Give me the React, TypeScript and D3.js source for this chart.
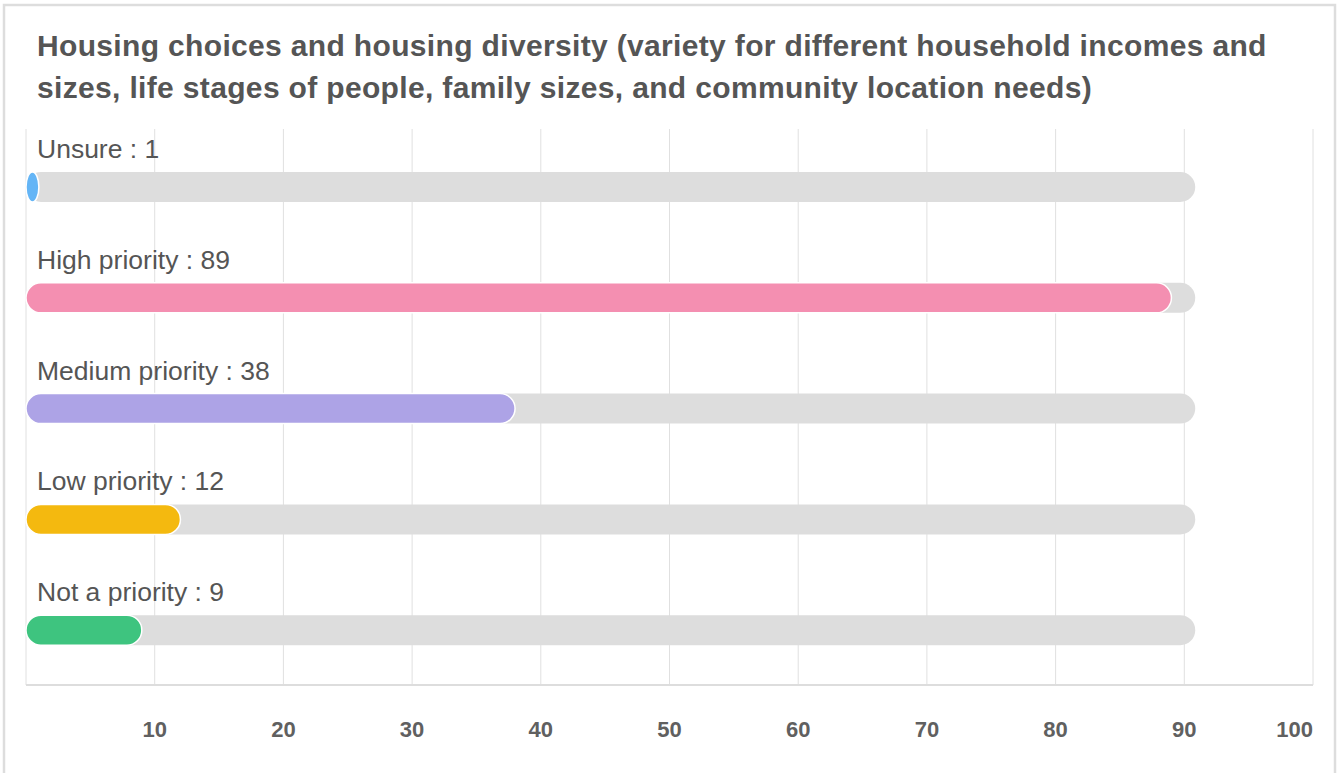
import React from "react";
import * as d3 from "d3";

const titleLines = [
  "Housing choices and housing diversity (variety for different household incomes and",
  "sizes, life stages of people, family sizes, and community location needs)",
];
const categories = ["Unsure", "High priority", "Medium priority", "Low priority", "Not a priority"];
const values = [1, 89, 38, 12, 9];
const colors = ["#64b5f6", "#f48fb1", "#ada3e6", "#f4b90f", "#3ec47f"];
const ticks = [10, 20, 30, 40, 50, 60, 70, 80, 90, 100];
const trackMax = 90.85;

const W = 1338;
const H = 773;
const FONT = "'Liberation Sans', Arial, Helvetica, sans-serif";

export default function App() {
  const left = 26;
  const right = 1313;
  const top = 129;
  const bottom = 685;
  const x = d3.scaleLinear().domain([0, 100]).range([left, right]);
  const y = d3.scaleBand().domain(categories).range([top, 683]).paddingInner(0);
  const barH = 30;
  const barOffset = 58;

  return (
    <svg
      width={W}
      height={H}
      style={{ position: "absolute", left: 0, top: 0, background: "#fff" }}
    >
      <rect x={4} y={5} width={1331} height={770} fill="#fff" stroke="#dddddd" strokeWidth={2.5} />
      {titleLines.map((t, i) => (
        <text
          key={i}
          x={37}
          y={56 + i * 42}
          fontFamily={FONT}
          fontWeight="bold"
          fontSize={30}
          letterSpacing={0.34}
          fill="#555555"
        >
          {t}
        </text>
      ))}
      {/* grid */}
      <line x1={left} x2={left} y1={top} y2={bottom} stroke="#e0e0e0" strokeWidth={1} />
      {ticks.map((t) => (
        <line key={t} x1={x(t)} x2={x(t)} y1={top} y2={bottom} stroke="#e0e0e0" strokeWidth={1} />
      ))}
      <line x1={left} x2={right} y1={bottom} y2={bottom} stroke="#dddddd" strokeWidth={2} />
      {ticks.map((t, i) => (
        <text
          key={"l" + t}
          x={i === ticks.length - 1 ? right : x(t)}
          y={737}
          textAnchor={i === ticks.length - 1 ? "end" : "middle"}
          fontFamily={FONT}
          fontWeight="bold"
          fontSize={22}
          fill="#606060"
        >
          {t}
        </text>
      ))}
      {categories.map((c, i) => {
        const cy = (y(c) as number) + barOffset;
        return (
          <g key={c}>
            <text x={37} y={cy - 29} fontFamily={FONT} fontSize={26.5} fill="#555555">
              {`${c} : ${values[i]}`}
            </text>
            <rect
              x={x(0)}
              y={cy - barH / 2}
              width={x(trackMax) - x(0)}
              height={barH}
              rx={barH / 2}
              fill="#dddddd"
            />
            <rect
              x={x(0)}
              y={cy - barH / 2}
              width={x(values[i]) - x(0)}
              height={barH}
              rx={barH / 2}
              fill={colors[i]}
              stroke="#ffffff"
              strokeWidth={1.5}
            />
          </g>
        );
      })}
    </svg>
  );
}
